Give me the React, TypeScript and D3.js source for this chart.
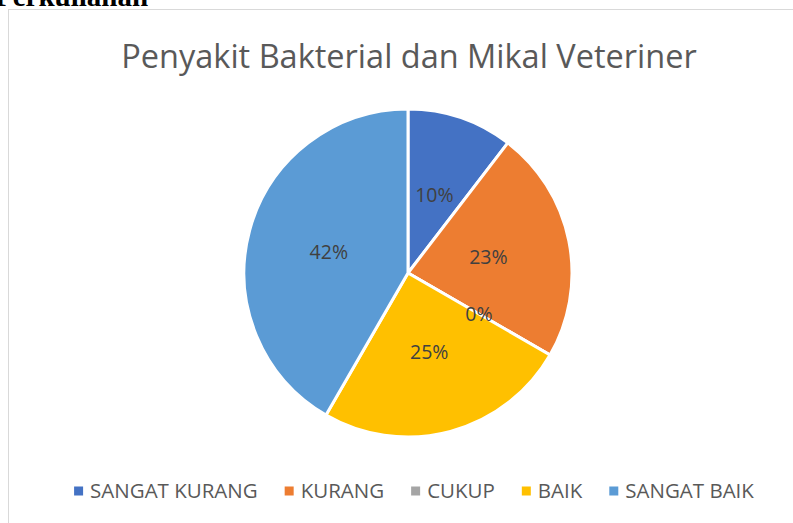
import { useEffect, useRef } from "react";
import * as d3 from "d3";

// chart data
const categories = ["SANGAT KURANG", "KURANG", "CUKUP", "BAIK", "SANGAT BAIK"];
const counts = [5, 11, 0, 12, 20];
const colors = ["#4472C4", "#ED7D31", "#A5A5A5", "#FFC000", "#5B9BD5"];
const chartTitle = "Penyakit Bakterial dan Mikal Veteriner";
const headingText = "Perkuliahan";

const WIDTH = 793;
const HEIGHT = 523;

export default function App() {
  const svgRef = useRef<SVGSVGElement | null>(null);

  useEffect(() => {
    const svg = d3.select(svgRef.current);
    svg.selectAll("*").remove();

    // cut off heading from the document above the chart
    svg
      .append("text")
      .attr("x", -5)
      .attr("y", 6)
      .style("font-family", "'Liberation Serif', serif")
      .style("font-weight", "bold")
      .style("font-size", "29px")
      .attr("fill", "#000")
      .text(headingText);

    // chart frame (right/bottom run off the page)
    svg
      .append("rect")
      .attr("x", 8.5)
      .attr("y", 9.5)
      .attr("width", 900)
      .attr("height", 600)
      .attr("fill", "#fff")
      .attr("stroke", "#d9d9d9")
      .attr("stroke-width", 1);

    svg
      .append("text")
      .attr("x", 409)
      .attr("y", 68)
      .attr("text-anchor", "middle")
      .style("font-family", "'Open Sans', sans-serif")
      .style("font-size", "32.5px")
      .attr("fill", "#595959")
      .text(chartTitle);

    const cx = 408;
    const cy = 273;
    const radius = 164;

    const total = d3.sum(counts);
    const pie = d3
      .pie<number>()
      .sort(null)
      .value((d) => d);
    const arcs = pie(counts);
    const arc = d3.arc<d3.PieArcDatum<number>>().innerRadius(0).outerRadius(radius);
    const labelArc = d3
      .arc<d3.PieArcDatum<number>>()
      .innerRadius(radius * 0.5)
      .outerRadius(radius * 0.5);

    const g = svg.append("g").attr("transform", `translate(${cx},${cy})`);
    g.selectAll("path")
      .data(arcs)
      .join("path")
      .attr("d", arc)
      .attr("fill", (_, i) => colors[i])
      .attr("stroke", "#fff")
      .attr("stroke-width", 3)
      .attr("stroke-linejoin", "round");

    const fmt = d3.format(".0%");
    g.selectAll("text")
      .data(arcs)
      .join("text")
      .attr("transform", (d) => {
        const [x, y] = labelArc.centroid(d);
        return `translate(${x},${y})`;
      })
      .attr("text-anchor", "middle")
      .attr("dy", "0.36em")
      .style("font-family", "'Open Sans', sans-serif")
      .style("font-size", "19.5px")
      .attr("fill", "#404040")
      .text((d) => fmt(d.data / total));

    // legend, measured then centred
    const legend = svg.append("g").attr("transform", `translate(0,491)`);
    const items = legend
      .selectAll("g")
      .data(categories)
      .join("g");
    items
      .append("rect")
      .attr("x", 0)
      .attr("y", -4.5)
      .attr("width", 9)
      .attr("height", 9)
      .attr("fill", (_, i) => colors[i]);
    items
      .append("text")
      .attr("x", 16)
      .attr("dy", "0.36em")
      .style("font-family", "'Open Sans', sans-serif")
      .style("font-size", "20.5px")
      .attr("fill", "#595959")
      .text((d) => d);

    const gap = 27;
    const widths: number[] = [];
    items.each(function () {
      const t = (this as SVGGElement).querySelector("text") as SVGTextElement;
      widths.push(16 + t.getComputedTextLength());
    });
    const totalW = d3.sum(widths) + gap * (widths.length - 1);
    let x = 414 - totalW / 2;
    items.attr("transform", (_, i) => {
      const pos = x;
      x += widths[i] + gap;
      return `translate(${pos},0)`;
    });
  }, []);

  return (
    <svg
      ref={svgRef}
      width={WIDTH}
      height={HEIGHT}
      style={{ position: "absolute", left: 0, top: 0, display: "block" }}
    />
  );
}
